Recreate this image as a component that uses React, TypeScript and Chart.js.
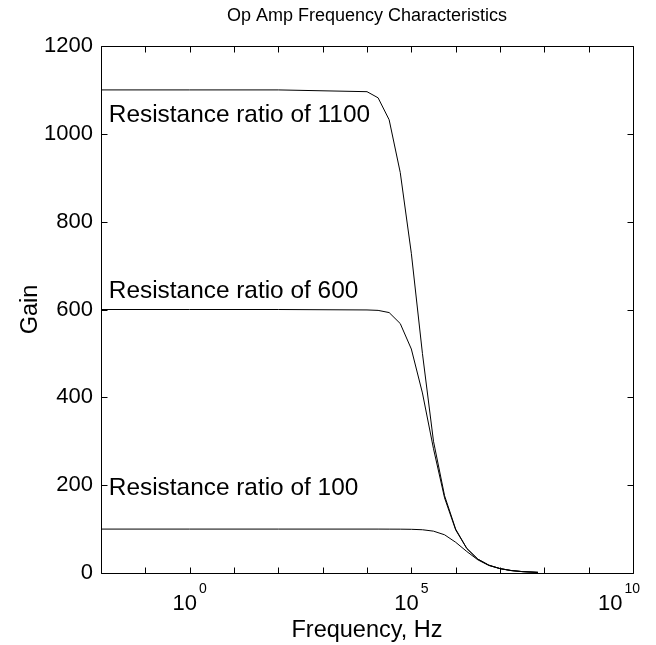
import { useEffect, useRef } from 'react';
import { Chart, registerables } from 'chart.js';

Chart.register(...registerables);

const FONT = '"Liberation Sans", Arial, Helvetica, sans-serif';

// Frequency samples (Hz)
const freqHz = [0.01, 1, 100, 10000, 17800, 31600, 56200, 100000, 178000, 316000, 562000, 1000000, 1780000, 3160000, 5620000, 10000000, 17800000, 31600000, 72000000];
// Gain for each resistance ratio
const gain1100 = [1100, 1100, 1100, 1096, 1082, 1032, 912, 728, 500, 300, 176, 100, 56, 31.6, 17.8, 10, 5.6, 3.2, 1.4];
const gain600 = [600, 600, 600, 599, 598, 593, 568, 510, 410, 283, 171, 98, 56, 31.5, 17.7, 10, 5.6, 3.2, 1.4];
const gain100 = [100, 100, 100, 100, 100, 99.9, 99.8, 99.5, 98.5, 95.3, 87, 70, 49, 30, 17.1, 10, 5.6, 3.2, 1.4];

// Annotations
const labelTexts = ['Resistance ratio of 1100', 'Resistance ratio of 600', 'Resistance ratio of 100'];
const labelFreq = [0.015, 0.015, 0.015];
const labelGain = [1050, 650, 200];

// Axes
const xTickValues = [1e-2, 1e-1, 1, 1e1, 1e2, 1e3, 1e4, 1e5, 1e6, 1e7, 1e8, 1e9, 1e10];
const xLabelValues = [1, 1e5, 1e10];
const xLabelExponents = ['0', '5', '10'];
const yTickValues = [0, 200, 400, 600, 800, 1000, 1200];

const titleText = 'Op Amp Frequency Characteristics';
const xTitle = 'Frequency, Hz';
const yTitle = 'Gain';

const matlabAxes = {
  id: 'matlabAxes',
  afterDatasetsDraw(chart: any) {
    const { ctx, chartArea: a, scales, width } = chart;
    const xs = scales.x;
    const ys = scales.y;
    const L = Math.round(a.left) + 0.5;
    const R = Math.round(a.right) + 0.5;
    const T = Math.round(a.top) + 0.5;
    const B = Math.round(a.bottom) + 0.5;
    const tick = 6;
    ctx.save();
    ctx.strokeStyle = '#000';
    ctx.lineWidth = 1;
    ctx.beginPath();
    ctx.rect(L, T, R - L, B - T);
    for (const v of xTickValues) {
      const px = Math.round(xs.getPixelForValue(v)) + 0.5;
      ctx.moveTo(px, B);
      ctx.lineTo(px, B - tick);
      ctx.moveTo(px, T);
      ctx.lineTo(px, T + tick);
    }
    for (const v of yTickValues) {
      const py = Math.round(ys.getPixelForValue(v)) + 0.5;
      ctx.moveTo(L, py);
      ctx.lineTo(L + tick, py);
      ctx.moveTo(R, py);
      ctx.lineTo(R - tick, py);
    }
    ctx.stroke();

    ctx.fillStyle = '#000';
    // y tick labels
    ctx.font = `22px ${FONT}`;
    ctx.textAlign = 'right';
    ctx.textBaseline = 'middle';
    for (const v of yTickValues) {
      ctx.fillText(String(v), a.left - 8, ys.getPixelForValue(v));
    }
    // x tick labels with superscripts
    ctx.textBaseline = 'alphabetic';
    ctx.textAlign = 'left';
    xLabelValues.forEach((v, i) => {
      const px = xs.getPixelForValue(v);
      ctx.font = `22px ${FONT}`;
      const wBase = ctx.measureText('10').width;
      ctx.font = `14px ${FONT}`;
      const wExp = ctx.measureText(xLabelExponents[i]).width;
      const total = wBase + 2 + wExp;
      let start = px - total / 2;
      if (start + total > width - 8) start = width - 8 - total;
      const base = a.bottom + 37;
      ctx.font = `22px ${FONT}`;
      ctx.fillText('10', start, base);
      ctx.font = `14px ${FONT}`;
      ctx.fillText(xLabelExponents[i], start + wBase + 2, base - 17);
    });
    // axis titles
    const cx = (a.left + a.right) / 2;
    ctx.textAlign = 'center';
    ctx.font = `23.5px ${FONT}`;
    ctx.fillText(xTitle, cx, a.bottom + 64);
    ctx.save();
    ctx.translate(29, (a.top + a.bottom) / 2);
    ctx.rotate(-Math.PI / 2);
    ctx.fillText(yTitle, 0, 0);
    ctx.restore();
    // title
    ctx.font = `18px ${FONT}`;
    ctx.fillText(titleText, cx, 13);
    // annotations
    ctx.font = `24.4px ${FONT}`;
    ctx.textAlign = 'left';
    ctx.textBaseline = 'alphabetic';
    labelTexts.forEach((t, i) => {
      ctx.fillText(t, xs.getPixelForValue(labelFreq[i]), ys.getPixelForValue(labelGain[i]) + 10);
    });
    ctx.restore();
  },
};

function toPoints(vals: number[]) {
  return freqHz.map((f, i) => ({ x: f, y: vals[i] }));
}

export default function App() {
  const ref = useRef<HTMLCanvasElement>(null);
  useEffect(() => {
    if (!ref.current) return;
    const lineStyle = { borderColor: '#000', borderWidth: 1, pointRadius: 0, fill: false, tension: 0 };
    const chart = new Chart(ref.current, {
      type: 'line',
      data: {
        datasets: [
          { label: 'Resistance ratio of 1100', data: toPoints(gain1100), ...lineStyle },
          { label: 'Resistance ratio of 600', data: toPoints(gain600), ...lineStyle },
          { label: 'Resistance ratio of 100', data: toPoints(gain100), ...lineStyle },
        ],
      },
      options: {
        animation: false,
        responsive: true,
        maintainAspectRatio: false,
        layout: { padding: { left: 93, right: 15, top: 38, bottom: 72 } },
        plugins: { legend: { display: false }, title: { display: false }, tooltip: { enabled: false } },
        scales: {
          x: { type: 'logarithmic', min: 0.01, max: 1e10, display: false },
          y: { type: 'linear', min: 0, max: 1200, display: false },
        },
      } as any,
      plugins: [matlabAxes],
    });
    return () => chart.destroy();
  }, []);
  return (
    <div style={{ width: 640, height: 637, position: 'relative', background: '#fff' }}>
      <canvas ref={ref} />
    </div>
  );
}
